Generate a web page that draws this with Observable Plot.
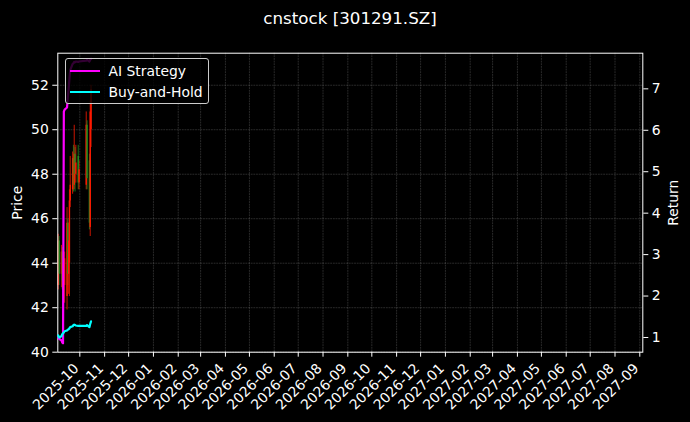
<!DOCTYPE html>
<html><head><meta charset="utf-8">
<script src="https://cdn.jsdelivr.net/npm/d3@7"></script>
<script src="https://cdn.jsdelivr.net/npm/@observablehq/plot@0.6"></script>
<style>
body{margin:0;background:#000;width:690px;height:422px;overflow:hidden;font-family:"DejaVu Sans",sans-serif;}
#wrap{position:relative;width:690px;height:422px;background:#000;}
#title{height:36px;line-height:36px;color:#fff;font-size:16.7px;text-align:center;padding-left:10px;box-sizing:border-box;width:690px;}
.layer{position:absolute;left:0;top:36px;}
#legend{position:absolute;left:64.5px;top:58px;width:144px;height:46px;box-sizing:border-box;border:1px solid #cccccc;border-radius:3px;background:rgba(0,0,0,0.8);color:#fff;font-size:13.9px;}
.row{position:absolute;left:0;height:20px;width:140px;}
.sw{position:absolute;left:4px;top:9px;width:30px;height:2.4px;}
.lt{position:absolute;left:43px;top:1px;line-height:18px;white-space:nowrap;}
</style>
</head><body>
<div id="wrap">
  <div id="title">cnstock [301291.SZ]</div>
  <div id="l1" class="layer"></div>
  <div id="l2" class="layer"></div>
  <div id="legend"></div>
</div>
<script>
// ---- data ----
const dates = ["2025-09-04","2025-09-05","2025-09-08","2025-09-09","2025-09-10","2025-09-11","2025-09-12",
  "2025-09-15","2025-09-16","2025-09-17","2025-09-18","2025-09-19","2025-09-22","2025-09-23","2025-09-24",
  "2025-09-25","2025-09-26","2025-09-29","2025-09-30","2025-10-09","2025-10-10","2025-10-13","2025-10-14","2025-10-15"];
const opens  = [43.0,45.0,43.5,44.5,43.2,44.0,43.0,42.5,45.8,43.5,44.0,46.8,47.3,48.7,47.5,48.9,48.0,48.8,47.6,47.5,50.2,48.6,45.6,50.0];
const closes = [45.0,43.5,44.5,43.2,44.0,43.0,44.2,45.8,43.5,45.0,46.8,47.5,48.7,47.5,48.9,48.0,48.5,47.6,48.2,50.2,47.8,45.8,50.8,51.8];
const highs  = [45.3,45.2,44.8,44.7,44.3,44.2,44.5,46.5,46.0,45.8,47.3,48.8,49.0,49.3,50.2,49.2,49.3,49.3,48.6,50.8,50.4,48.9,51.3,52.0];
const lows   = [42.8,43.0,42.9,42.8,42.5,42.4,42.2,41.9,43.0,42.6,42.5,46.5,47.1,47.2,47.3,47.2,47.6,47.3,47.3,47.3,47.3,45.5,45.2,49.2];
const aiStrategy = [1.0,0.97,0.93,0.88,0.86,6.45,6.5,6.55,6.8,7.0,7.25,7.45,7.6,7.62,7.65,7.64,7.66,7.65,7.66,7.68,7.7,7.66,7.7,7.72];
const buyHold    = [1.05,1.0,1.03,1.08,1.1,1.12,1.15,1.17,1.19,1.2,1.22,1.25,1.27,1.3,1.31,1.3,1.29,1.28,1.28,1.28,1.3,1.25,1.33,1.39];
const months = ["2025-10","2025-11","2025-12","2026-01","2026-02","2026-03","2026-04","2026-05","2026-06","2026-07","2026-08","2026-09",
  "2026-10","2026-11","2026-12","2027-01","2027-02","2027-03","2027-04","2027-05","2027-06","2027-07","2027-08","2027-09"];
const priceTicks = [40,42,44,46,48,50,52];
const returnTicks = [1,2,3,4,5,6,7];
const seriesNames = ["AI Strategy","Buy-and-Hold"];
const seriesColors = ["#ff00ff","#00ffff"];

// ---- build ----
const toDate = s => new Date(s + "T00:00:00Z");
const candles = dates.map((d,i)=>({date:toDate(d),open:opens[i],close:closes[i],high:highs[i],low:lows[i]}));
const ai = dates.map((d,i)=>({date:toDate(d),v:aiStrategy[i]}));
const bh = dates.map((d,i)=>({date:toDate(d),v:buyHold[i]}));
const monthDates = months.map(m=>toDate(m+"-01"));
const xDomain = [new Date("2025-09-03T11:00:00Z"), new Date("2027-09-04T18:00:00Z")];

const W=690,H=386,mt=16.7,mb=70.3,ml=57.3,mr=47.7;
const common = {width:W,height:H,marginTop:mt,marginBottom:mb,marginLeft:ml,marginRight:mr,
  style:{background:"transparent",color:"#fff",fontFamily:"DejaVu Sans",fontSize:"13.9px",overflow:"visible"}};
const gridStyle = {stroke:"#9a9a9a",strokeOpacity:0.55,strokeWidth:0.5,strokeDasharray:"1.85,0.8"};
const candleColor = d => d.close >= d.open ? "#ff1a00" : "#1f8f1f";

const p1 = Plot.plot({
  ...common,
  x:{type:"utc",domain:xDomain},
  y:{domain:[40,53.44]},
  color:{type:"identity"},
  marks:[
    Plot.gridX(monthDates,gridStyle),
    Plot.gridY(priceTicks,gridStyle),
    Plot.ruleX(candles,{x:"date",y1:"low",y2:"high",stroke:candleColor,strokeWidth:0.8}),
    Plot.ruleX(candles,{x:"date",y1:"open",y2:"close",stroke:candleColor,strokeWidth:1.4}),
    Plot.frame({stroke:"#fff",strokeWidth:1}),
    Plot.axisY(priceTicks,{anchor:"left",tickSize:5,tickPadding:4,stroke:"#fff",fill:"#fff",fontSize:13.9,label:null}),
    Plot.axisX(monthDates,{anchor:"bottom",tickSize:5,stroke:"#fff",tickFormat:()=>"",label:null}),
    Plot.text(monthDates,{x:d=>d,text:(d,i)=>months[i],frameAnchor:"bottom",dy:14,dx:-3.5,rotate:-45,
      textAnchor:"end",lineAnchor:"middle",fill:"#fff",fontSize:13.9}),
    Plot.text(["Price"],{frameAnchor:"left",dx:-40.3,rotate:-90,fill:"#fff",fontSize:13.9,textAnchor:"middle",lineAnchor:"middle"})
  ]
});
document.getElementById("l1").appendChild(p1);

const p2 = Plot.plot({
  ...common,
  x:{type:"utc",domain:xDomain,axis:null},
  y:{domain:[0.645,7.86]},
  marks:[
    Plot.lineY(ai,{x:"date",y:"v",stroke:seriesColors[0],strokeWidth:2.2}),
    Plot.lineY(bh,{x:"date",y:"v",stroke:seriesColors[1],strokeWidth:2.2}),
    Plot.axisY(returnTicks,{anchor:"right",tickSize:5,tickPadding:4,stroke:"#fff",fill:"#fff",fontSize:13.9,label:null}),
    Plot.text(["Return"],{frameAnchor:"right",dx:30.4,rotate:-90,fill:"#fff",fontSize:13.9,textAnchor:"middle",lineAnchor:"middle"})
  ]
});
document.getElementById("l2").appendChild(p2);

// legend
const lg = document.getElementById("legend");
seriesNames.forEach((n,i)=>{
  const r = document.createElement("div");
  r.className="row"; r.style.top = (i===0? 2 : 23) + "px";
  r.innerHTML = `<div class="sw" style="background:${seriesColors[i]}"></div><div class="lt">${n}</div>`;
  lg.appendChild(r);
});
</script>
</body></html>
